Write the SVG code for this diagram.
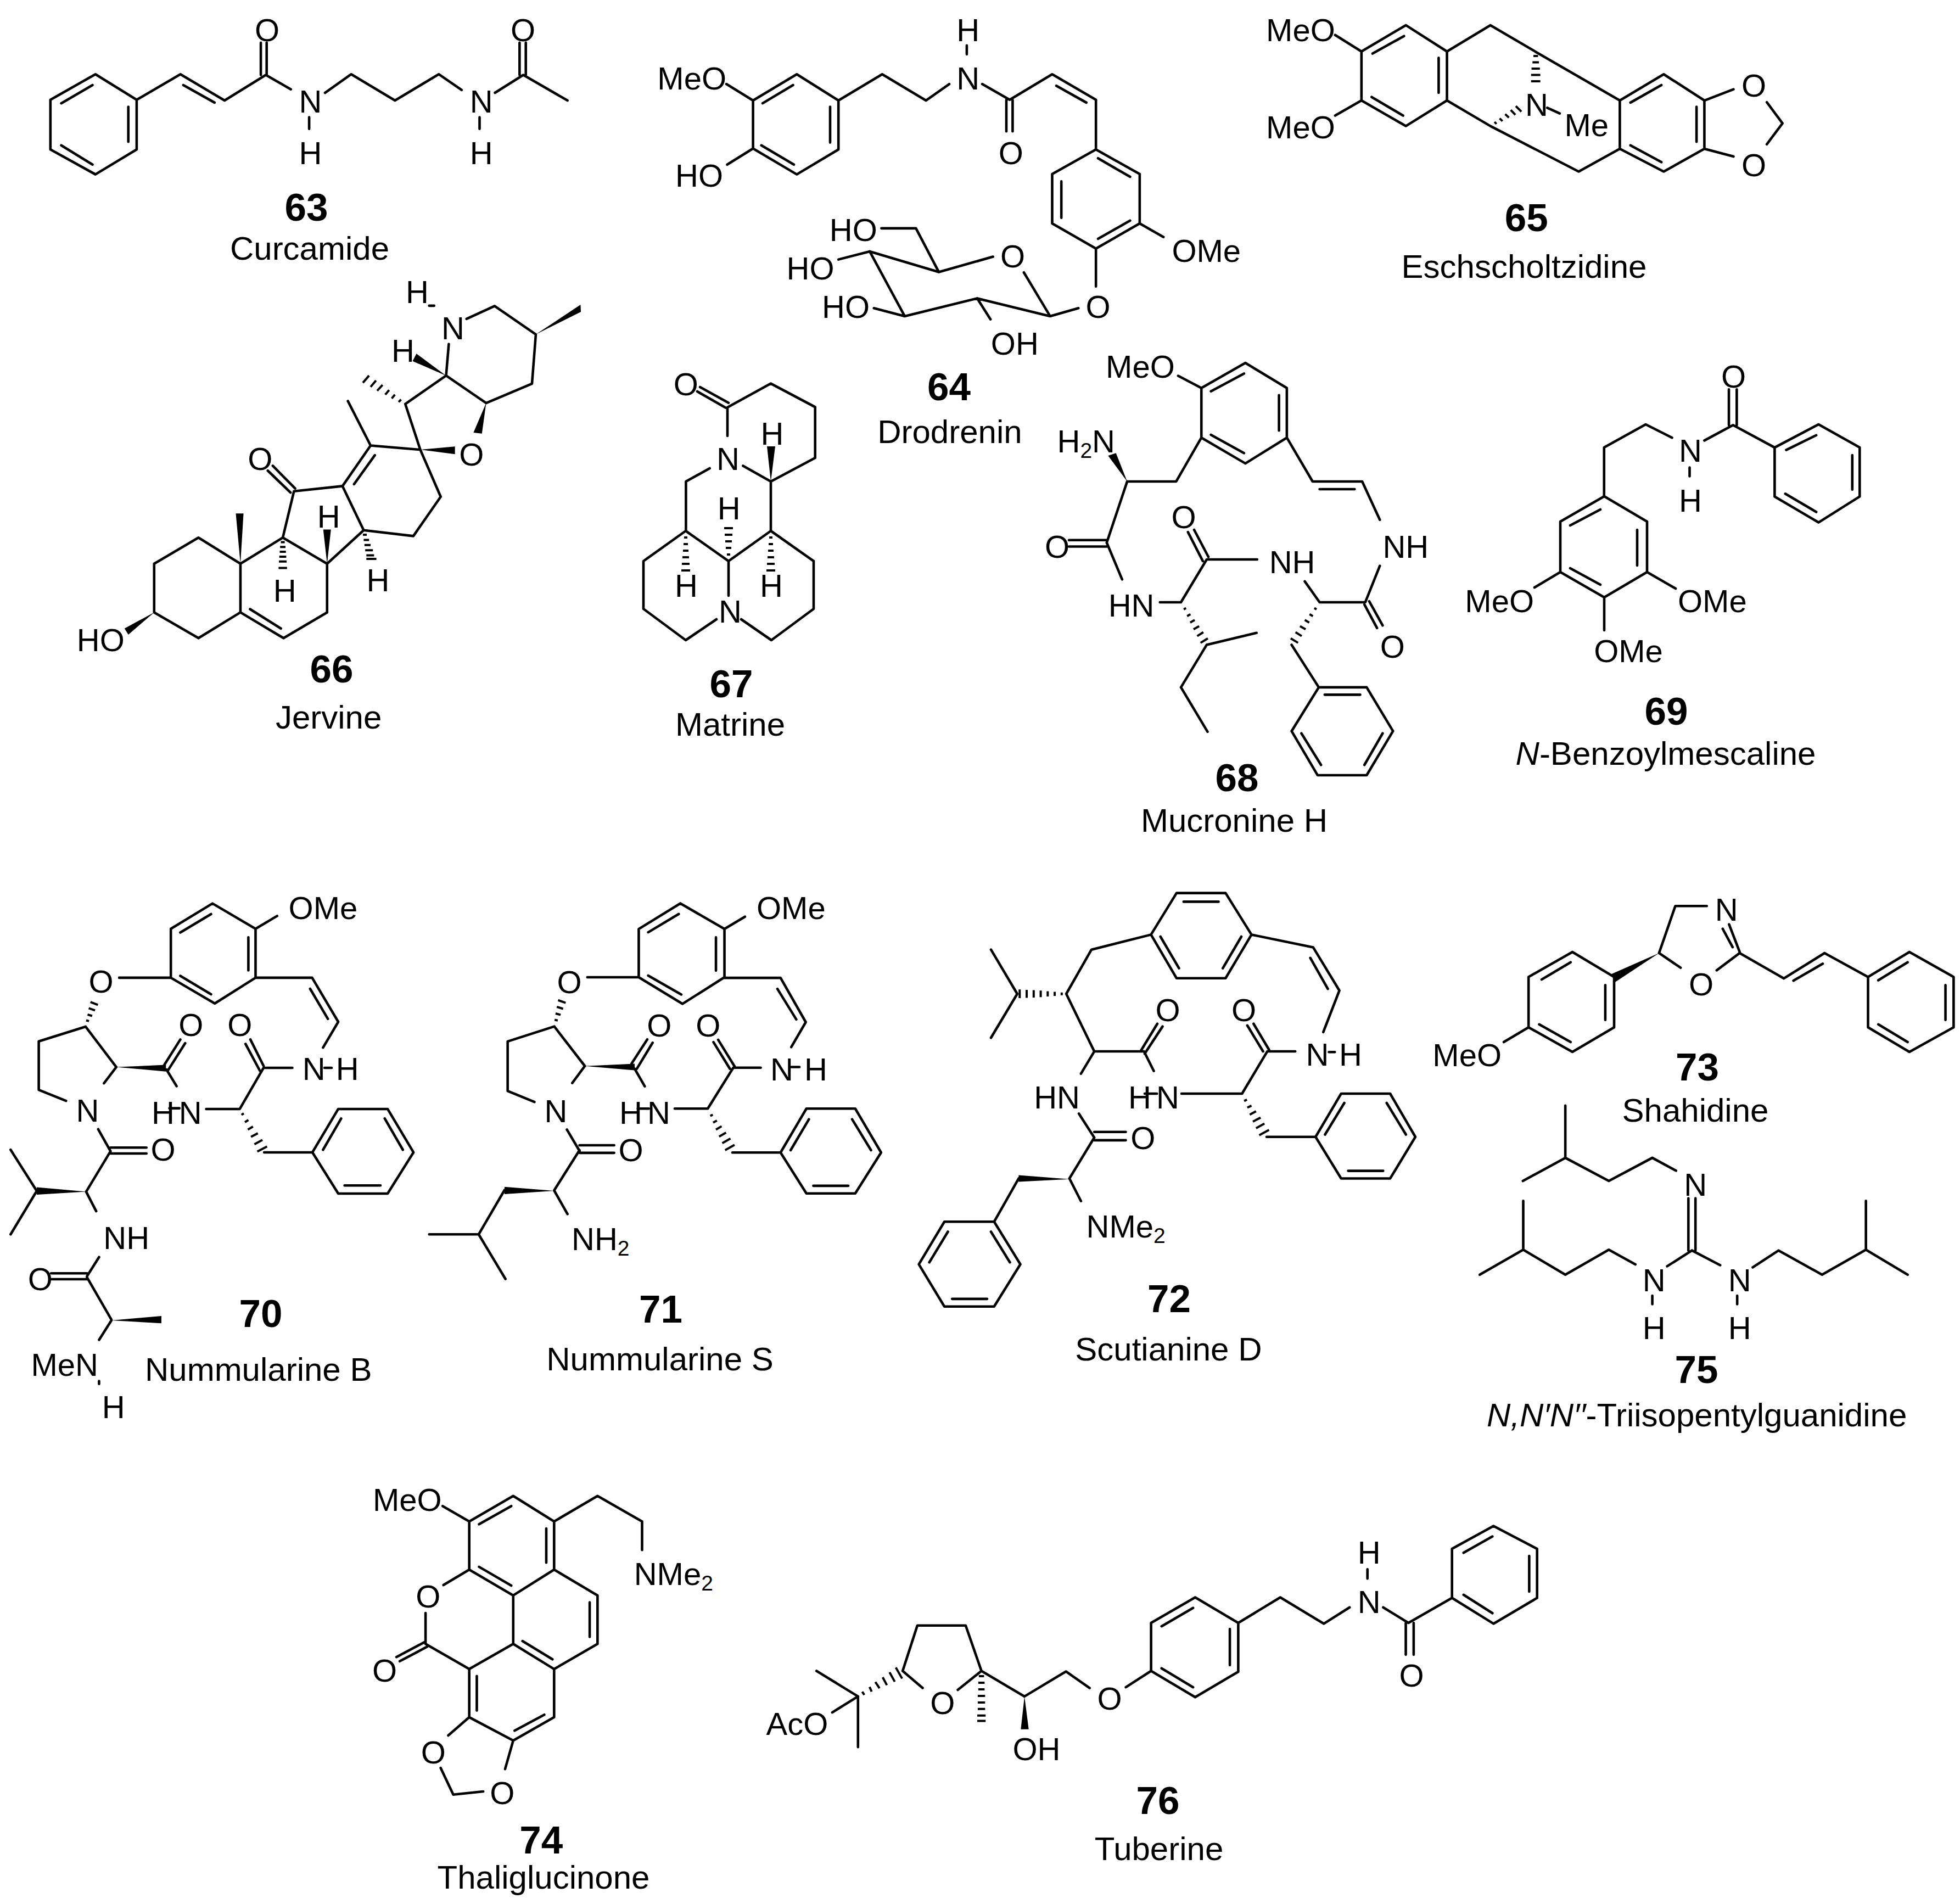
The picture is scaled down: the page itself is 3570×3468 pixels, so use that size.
<svg xmlns="http://www.w3.org/2000/svg" width="3570" height="3468" viewBox="0 0 3570 3468">
<style>
text{font-family:"Liberation Sans",Arial,sans-serif;fill:#000;font-size:58px}
.m{text-anchor:middle}.e{text-anchor:end}
.num{font-size:71px;font-weight:bold;text-anchor:middle}
.name{font-size:60px;text-anchor:middle}
.s{font-size:39px}
.b path{fill:none;stroke:#000;stroke-width:4.6;stroke-linecap:round;stroke-linejoin:round;vector-effect:non-scaling-stroke}
.b path.w{fill:#000;stroke:none}
.b path.h{stroke-width:4;stroke-linecap:butt}
</style>
<rect width="3570" height="3468" fill="#fff"/>

<g id="c63">
<g class="b" transform="scale(.7589,.6378)">
<path d="M121 285L229 212L328 285V427L229 498L121 427ZM147 295L222 243M308 305V405M147 415L222 470M328 285L433 212L539 287L638 214L698 255M440 243L515 293M626 214V122M640 214V122M742 335V368M780 265L843 212L948 287L1053 212L1108 257M1151 335V368M1188 265L1256 214L1362 287M1247 214V122M1262 214V122"/>
</g>
<text class="m" x="486.5" y="75">O</text><text class="m" x="952.5" y="75">O</text>
<text class="m" x="565.5" y="205">N</text><text class="m" x="565.5" y="299">H</text>
<text class="m" x="876.6" y="205">N</text><text class="m" x="876.6" y="299">H</text>
<text class="num" x="558" y="402">63</text><text class="name" x="564" y="473">Curcamide</text>
</g>

<g id="c64">
<g class="b" transform="translate(1150,0) scale(.7589,.6378)">
<path d="M292 287L397 212L497 287V427L397 498L292 424ZM315 295L388 243M477 305V407M312 415L390 470M497 287L602 212L707 287L763 240M805 130V155M842 240L908 285L1010 212L1115 285V427M1020 245L1092 293M900 285V375M915 285V375M228 240L292 287M230 470L292 424M1115 427L1220 497V638L1115 710L1010 638V497ZM1120 452L1197 505M1032 518V622M1120 682L1197 630M1220 638L1277 677M1115 710V818M1073 880L1005 903L942 778M868 733L738 777L572 718L656 903L830 852L1005 903M830 852L862 912M656 903L582 880M572 718L497 741M738 777L683 652H600"/>
</g>
<text class="m" x="1763.3" y="162.7">N</text><text class="m" x="1763.3" y="75.3">H</text>
<text class="m" x="1841.4" y="298.6">O</text>
<text class="e" x="1323" y="162.7">MeO</text><text class="e" x="1317" y="340">HO</text>
<text x="2134.4" y="477">OMe</text><text class="m" x="2000" y="579.3">O</text>
<text class="m" x="1844.5" y="486.8">O</text><text class="m" x="1848.3" y="645.7">OH</text>
<text class="e" x="1584" y="579.3">HO</text><text class="e" x="1519.6" y="509">HO</text><text class="e" x="1597.8" y="439">HO</text>
<text class="num" x="1728.4" y="728.6">64</text><text class="name" x="1729.9" y="807">Drodrenin</text>
</g>

<g id="c65">
<g class="b" transform="translate(2250,0) scale(.8418,.6378)">
<path d="M273 147L369 72L458 147V287L369 360L273 287ZM297 153L365 103M440 165V265M295 277L363 330M458 147L552 72L650 148L832 287M458 287L552 360L743 490L832 425M675 308L702 324M832 287L927 212L1015 287V425L927 490L832 425ZM855 293L922 243M998 305V405M855 415L922 463M1015 287L1078 255M1015 425L1078 447M1150 292L1184 352L1150 412M216 100L273 147M216 330L273 287"/>
<path class="h" d="M645 160H655M643 178H657M641 196H659M640 214H660M640 232H660M561 348L565 354M572 338L578 346M584 326L592 336M596 314L606 328M607 303L619 319"/>
</g>
<text class="m" x="2798.9" y="210.5">N</text><text x="2849.4" y="247.5">Me</text>
<text class="m" x="3194.5" y="175.5">O</text><text class="m" x="3194.5" y="321">O</text>
<text class="e" x="2431.8" y="75.3">MeO</text><text class="e" x="2431.8" y="252">MeO</text>
<text class="num" x="2780.3" y="421">65</text><text class="name" x="2776" y="506">Eschscholtzidine</text>
</g>

<g id="c66">
<g class="b" transform="translate(50,480) scale(.7015,.5867)">
<path d="M329 932L444 851L553 932V1083L444 1163L329 1083ZM553 932L663 851L778 932V1083L665 1163L553 1083M578 1073L658 1133M663 851L692 707L818 691L873 828L778 932M695 698L637 628M683 711L624 643M818 691L891 565L1020 578L1073 724L1002 846L873 828M848 685L902 595M891 565L832 427M1020 578L981 436L1087 348L1191 433M1087 348L1094 250M1140 172L1213 132L1320 220L1310 373L1191 433M1043 131H1056"/>
<path class="w" d="M329 1083L252 1133L262 1152ZM553 932L541 776H561ZM778 932L768 826H788ZM1020 578L1110 568V592ZM1191 433L1158 525L1180 528ZM1087 348L1010 280L1000 303ZM1320 220L1436 128L1437 150Z"/>
<path class="h" d="M658 865H668M656 880H670M655 895H671M654 910H672M653 925H673M652 945H674M871 842H881M873 858H887M875 874H891M877 890H897M880 906H900M880 917H906M964 430L970 422M946 419L954 407M929 407L939 393M908 395L922 377M891 383L905 363M871 370L887 348"/>
</g>
<text class="m" x="473.7" y="855.5">O</text><text class="m" x="518.6" y="1096">H</text><text class="m" x="598.6" y="961">H</text><text class="m" x="688.4" y="1077">H</text>
<text class="m" x="858.8" y="847.9">O</text><text class="m" x="734" y="659">H</text><text class="m" x="825" y="617.9">N</text><text class="m" x="760" y="551.6">H</text><text class="m" x="183.3" y="1185.8">HO</text>
<text class="num" x="604" y="1242.7">66</text><text class="name" x="598.6" y="1326.6">Jervine</text>
</g>

<g id="c67">
<g class="b">
<path d="M1325 794V742L1404 698.6L1484.7 741.4V834L1404 877L1353.4 848.5M1275 705L1327 733.7M1270 713L1321.5 742.6M1292.7 853L1249.4 877V967M1404 967V877M1404 967L1327 1022L1249 967L1172 1022V1109L1249 1166L1305 1128M1350 1128L1405 1166L1482 1109V1022L1404 967M1327 1022V1085"/>
<path class="w" d="M1404 877L1397 813H1412Z"/>
<path class="h" d="M1324 1010H1330M1322 998H1332M1321 986H1333M1320 974H1334M1319 962H1335M1246 979H1252M1245 991H1253M1244 1003H1254M1243 1015H1255M1242 1027H1256M1241 1039H1257M1401 979H1407M1400 991H1408M1399 1003H1409M1398 1015H1410M1397 1027H1411M1396 1039H1412"/>
</g>
<text class="m" x="1249.4" y="719.7">O</text><text class="m" x="1326" y="856">N</text><text class="m" x="1406.5" y="810">H</text><text class="m" x="1327.6" y="945.5">H</text>
<text class="m" x="1250" y="1087">H</text><text class="m" x="1405" y="1087">H</text><text class="m" x="1330" y="1134">N</text>
<text class="num" x="1332" y="1270">67</text><text class="name" x="1330" y="1340">Matrine</text>
</g>

<g id="c68">
<g class="b" transform="translate(1850,620) scale(.5102,.5867)">
<path d="M663 148L820 70L968 148V302L820 382L663 302ZM697 158L815 103M940 170V280M697 293L815 350M580 110L663 148M398 438H573L663 302M398 438L325 628M325 620H190M325 640H190M325 628L380 742M515 813H590L682 680H862M668 685L615 595M688 672L637 588M1032 748L1085 813H1248L1300 700M1245 820L1290 893M1262 810L1310 885M682 945L860 908M682 945L590 1077L685 1215M985 945L1082 1077M1082 1077H1253L1347 1213L1253 1350H1078L985 1213ZM1103 1100H1230M1310 1220L1245 1318M1020 1220L1090 1318M968 302L1060 438H1237L1300 557M1085 462H1210"/>
<path class="w" d="M398 438L330 358L358 350Z"/>
<path class="h" d="M600 835L608 831M612 856L624 850M623 876L639 868M635 897L655 887M648 918L670 906M660 939L686 925M1066 831L1074 835M1049 850L1061 856M1032 868L1048 876M1015 887L1035 897M999 906L1021 918M982 925L1008 939"/>
</g>
<text class="e" x="2139.8" y="687.5">MeO</text>
<text x="1925.5" y="824">H<tspan class="s" dy="10">2</tspan><tspan dy="-10">N</tspan></text>
<text class="m" x="1925.5" y="1016">O</text><text class="e" x="2102.5" y="1123.4">HN</text><text class="m" x="2156" y="962">O</text>
<text x="2311.7" y="1044.2">NH</text><text x="2518.4" y="1016">NH</text><text class="m" x="2536.2" y="1198">O</text>
<text class="num" x="2253" y="1441.4">68</text><text class="name" x="2248" y="1514.7">Mucronine H</text>
</g>

<g id="c69">
<g class="b">
<path d="M2922 904L3000 950V1042L2922 1088L2842 1042V950ZM2860 957L2915 928M2982 965V1030M2860 1035L2915 1065M2842 1042L2795 1070M3000 1042L3052 1072M2922 1088V1148"/>
</g>
<g class="b" transform="translate(2250,0) scale(.8418,.6378)">
<path d="M798 1418V1278L888 1212L945 1250M1015 1258L1077 1214L1167 1278M983 1335V1360M1068 1214V1112M1085 1214V1112M1167 1278L1262 1212L1351 1278V1418L1262 1492L1167 1418ZM1192 1285L1257 1243M1335 1300V1398M1190 1410L1257 1462"/>
</g>
<text class="m" x="3079" y="841">N</text><text class="m" x="3079" y="931.5">H</text><text class="m" x="3157.5" y="706">O</text>
<text class="e" x="2794" y="1115">MeO</text><text x="3056" y="1115">OMe</text><text class="m" x="2966" y="1206">OMe</text>
<text class="num" x="3035" y="1320">69</text><text class="name" x="3034" y="1393"><tspan font-style="italic">N</tspan>-Benzoylmescaline</text>
</g>

<g id="c70">
<g class="b" transform="translate(0,1580) scale(.523,.6696)">
<path d="M595 167L740 98L890 167V300L748 370L595 300ZM628 177L735 127M865 190V280M628 295L735 345M890 167L965 132M595 300H415M298 433L135 473V605L230 635M298 433L405 543M405 543L362 587M570 540L628 468M585 552L645 478M580 550L615 595M590 655H625M718 657H835L918 545H1018M918 540L872 468M905 553L855 480M1130 545H1155M1125 490L1178 420L1087 300H890M1142 412L1080 330M920 775H1088M1088 775L1178 657H1350L1440 775L1350 887H1178ZM1125 768L1188 683M1340 683L1403 768M1200 865H1325M342 712L385 772M385 762H510M385 778H510M385 772L300 882M128 880L37 768M128 880L37 998M300 882L335 935M345 1060L303 1112M303 1104H178M303 1120H178M303 1115L388 1230M388 1232L345 1285M345 1397V1405"/>
<path class="w" d="M405 543L578 537V555ZM300 882L128 870V890ZM388 1232L562 1220V1240Z"/>
<path class="h" d="M300 416L310 418M305 400L321 404M309 383L331 389M315 366L341 374M841 673L849 669M853 693L865 687M863 713L881 705M874 733L898 723M886 753L914 741M896 773L930 759"/>
</g>
<text x="525.6" y="1673.7">OMe</text><text class="m" x="184" y="1807.7">O</text><text class="m" x="159.5" y="2043.4">N</text><text class="m" x="347.8" y="1886.7">O</text>
<text class="m" x="297" y="2046.7">H</text><text class="m" x="346.7" y="2046.7">N</text><text class="m" x="436.7" y="1886.7">O</text>
<text class="m" x="571.6" y="1967">N</text><text class="m" x="632.8" y="1967">H</text><text class="m" x="297" y="2113.7">O</text>
<text x="188.3" y="2275">NH</text><text class="m" x="73.2" y="2350">O</text><text x="56.5" y="2506">MeN</text><text class="m" x="206.6" y="2583">H</text>
<text class="num" x="475" y="2417">70</text><text class="name" x="470.7" y="2515.4">Nummularine B</text>
</g>

<g id="c71">
<g class="b" transform="translate(780,1580) scale(.574,.6059)">
<path d="M668 185L800 108L940 185V330L807 410L668 330ZM698 195L795 140M913 210V310M698 325L803 382M940 185L1005 148M668 330H505M400 478L252 523V672L337 705M400 478L497 597M497 597L457 648M645 590L695 517M662 605L712 527M655 605L687 658M665 725H700M782 725H887L968 602H1055M957 605L905 525M972 598L920 518M1152 600H1178M1152 540L1198 465L1118 332H940M1168 457L1108 365M965 857H1118M1118 857L1200 725H1355L1437 857L1355 980H1200ZM1150 850L1208 757M1345 757L1405 850M1222 957H1333M440 788L480 852M480 835H590M480 858H590M480 850L400 970M400 972L442 1042M242 970L160 1103H3M160 1103L245 1237"/>
<path class="w" d="M497 597L655 590V610ZM400 972L242 960V982Z"/>
<path class="h" d="M401 458L411 460M404 439L420 443M408 419L428 425M412 399L436 407M895 747L903 743M904 767L916 761M913 788L931 778M923 809L945 797M933 829L959 815M942 850L972 834"/>
</g>
<text x="1378" y="1674">OMe</text><text class="m" x="1037" y="1809">O</text><text class="m" x="1012.5" y="2043.5">N</text><text class="m" x="1200.7" y="1887.8">O</text>
<text class="m" x="1149" y="2046.5">H</text><text class="m" x="1200" y="2046.5">N</text><text class="m" x="1289.7" y="1887.8">O</text>
<text class="m" x="1424" y="1967.8">N</text><text class="m" x="1486" y="1967.8">H</text><text class="m" x="1149" y="2115">O</text>
<text x="1041" y="2276.8">NH<tspan class="s" dy="10">2</tspan></text>
<text class="num" x="1203.6" y="2408.9">71</text><text class="name" x="1202" y="2496">Nummularine S</text>
</g>

<g id="c72">
<g class="b" transform="translate(1650,1580) scale(.6378,.6059)">
<path d="M700 202L773 77H913L987 202L913 333H773ZM793 103H893M727 208L780 303M958 208L905 303M700 202L530 247L458 380L538 553H680M318 380L243 247M318 380L243 512M670 553L718 470M682 560L733 478M680 553L708 612M538 553L500 620M494 740L538 812M538 795H628M538 820H628M538 812L467 935M467 935L500 1003M322 935L252 1065M252 1065H110L37 1193L110 1320H252L327 1193ZM243 1095L297 1187M120 1095L67 1187M132 1297H232M682 680H717M787 680H960L1032 553H1112M1020 553L975 475M1037 548L993 470M1208 555H1225M1192 495L1238 370L1163 240L987 202M1205 365L1155 272M1030 810H1170M1170 810L1243 680H1383L1455 810L1383 935H1243ZM1197 803L1252 708M1373 708L1428 803M1263 912H1363"/>
<path class="w" d="M467 937L322 925V945Z"/>
<path class="h" d="M445 376V384M425 374V386M405 372V388M385 370V390M365 369V391M345 368V392M325 367V393M966 702L974 698M975 722L987 716M982 743L1000 733M991 764L1013 752M1000 784L1024 770M1009 805L1037 789"/>
</g>
<text class="m" x="2127" y="1860">O</text><text class="e" x="1967" y="2019.3">HN</text><text class="m" x="2081.8" y="2093">O</text>
<text x="1978.5" y="2253.8">NMe<tspan class="s" dy="10">2</tspan></text>
<text class="m" x="2076" y="2019.3">H</text><text class="m" x="2127" y="2019.3">N</text><text class="m" x="2265.5" y="1860">O</text>
<text class="m" x="2399.4" y="1940.5">N</text><text class="m" x="2460" y="1940.5">H</text>
<text class="num" x="2129.6" y="2390">72</text><text class="name" x="2128.4" y="2478">Scutianine D</text>
</g>

<g id="c73">
<g class="b" transform="translate(2560,1600) scale(.6441,.6696)">
<path d="M348 268L472 200L590 268V405L472 472L348 405ZM385 275L467 228M565 290V385M378 397L467 445M278 445L348 405M717 203L763 75H852M717 203L778 243M880 250L945 203M945 200L915 125M925 187L897 137M945 203L1070 272L1185 203L1308 268M1097 278L1180 232M1308 268L1425 200L1550 268V405L1425 472L1308 405ZM1337 277L1420 228M1527 290V385M1337 397L1420 445"/>
<path class="w" d="M717 203L583 260L593 282Z"/>
</g>
<text class="e" x="2735" y="1941.5">MeO</text><text class="m" x="3144.8" y="1677">N</text><text class="m" x="3098.5" y="1813">O</text>
<text class="num" x="3091.4" y="1968.3">73</text><text class="name" x="3088" y="2043.3">Shahidine</text>
</g>

<g id="c74">
<g class="b" transform="translate(620,2660) scale(.5102,.5102)">
<path d="M460 218L617 127L763 218V390L617 482L460 390ZM495 228L610 163M735 243V365M495 380L610 447M763 218L918 127L1077 218V320M365 163L460 218M460 390L368 445M304 545V655M302 648L200 702M310 665L212 717M304 655L460 745L617 655V482M763 390L918 482V655L763 745L617 655M890 507V630M650 645L757 710M460 745V917L617 1000L763 917V745M487 770V893M622 965L728 908M460 917L385 982M617 1000L588 1102M358 1098L403 1193L510 1182"/>
</g>
<text x="1154.7" y="2887">NMe<tspan class="s" dy="10">2</tspan></text><text class="e" x="804.7" y="2751.8">MeO</text>
<text class="m" x="779.7" y="2927.9">O</text><text class="m" x="700.6" y="3063">O</text><text class="m" x="789.4" y="3212">O</text><text class="m" x="914.9" y="3285.5">O</text>
<text class="num" x="985.8" y="3375.8">74</text><text class="name" x="990" y="3439.6">Thaliglucinone</text>
</g>

<g id="c75">
<g class="b" transform="translate(2560,1600) scale(.6441,.6696)">
<path d="M332 823L452 760V618M452 760L575 823L698 760L765 795M800 870V1012M820 870V1012M810 1012L890 1052M810 1012L740 1055M698 1135V1158M938 1135V1158M650 1050L575 1010L452 1078L333 1010V877M333 1010L210 1078M982 1058L1055 1012L1178 1078L1302 1010V877M1302 1010L1420 1078"/>
</g>
<text class="m" x="3088.2" y="2177.9">N</text><text class="m" x="3012.8" y="2352">N</text><text class="m" x="3012.8" y="2439">H</text><text class="m" x="3168.7" y="2352">N</text><text class="m" x="3168.7" y="2439">H</text>
<text class="num" x="3090" y="2518.7">75</text><text class="name" x="3090.7" y="2597.7"><tspan font-style="italic">N,N′N′′</tspan>-Triisopentylguanidine</text>
</g>

<g id="c76">
<g class="b" transform="translate(1360,2680) scale(.9566,.4783)">
<path d="M133 760L212 857L163 918M212 857V1050M297 760L325 587H417L447 760M297 760L335 825M447 760L402 832M447 760L529 857L608 762L653 825M722 822L770 760M770 760V577L854 480L936 577V763L854 860ZM790 590L850 520M920 600V738M790 750L850 822M936 577L1016 480L1099 580L1148 518M1182 373V408M1212 518L1260 577L1343 482M1255 577V698M1270 577V698M1343 482V295L1422 208L1505 295V482L1422 580ZM1365 310L1420 248M1490 322V458M1365 470L1420 540"/>
<path class="w" d="M529 857L522 982H537Z"/>
<path class="h" d="M220 839L224 851M234 821L238 839M245 802L253 826M259 784L267 814M272 765L282 801M284 747L296 789M442 780H452M441 805H453M441 830H453M440 855H454M440 880H454M440 905H454M439 930H455M439 950H455"/>
</g>
<text class="m" x="1716.8" y="3122.4">O</text><text class="e" x="1508.3" y="3159.7">AcO</text><text class="m" x="1888" y="3206">OH</text><text class="m" x="2021" y="3113.8">O</text>
<text class="m" x="2493.6" y="2938.3">N</text><text class="m" x="2493.6" y="2848.4">H</text><text class="m" x="2571" y="3072">O</text>
<text class="num" x="2109" y="3304">76</text><text class="name" x="2111" y="3388">Tuberine</text>
</g>
</svg>
